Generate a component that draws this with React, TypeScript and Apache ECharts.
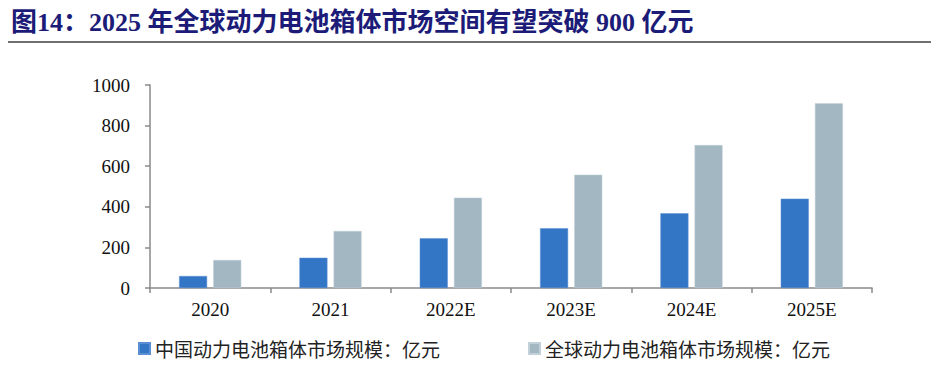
import React, { useEffect, useRef } from "react";
import * as echarts from "echarts";

const categories = ["2020", "2021", "2022E", "2023E", "2024E", "2025E"];
const chinaValues = [59, 149, 245, 294, 368, 440];
const globalValues = [138, 281, 445, 558, 704, 910];
const seriesNames = ["中国动力电池箱体市场规模：亿元", "全球动力电池箱体市场规模：亿元"];
const titleText = "图14：2025 年全球动力电池箱体市场空间有望突破 900 亿元";

export default function App() {
  const ref = useRef<HTMLDivElement>(null);
  useEffect(() => {
    document.body.style.margin = "0";
    if (!ref.current) return;
    const chart = echarts.init(ref.current, undefined, { renderer: "svg" });
    const serif = "'Liberation Serif', 'Times New Roman', serif";
    chart.setOption({
      animation: false,
      backgroundColor: "#ffffff",
      graphic: [
        {
          type: "text",
          left: 11,
          top: 9,
          style: {
            text: titleText,
            font: "bold 26px 'Liberation Serif', 'Noto Sans CJK SC', serif",
            fill: "#1c1c78",
          },
        },
        {
          type: "line",
          shape: { x1: 8, y1: 42, x2: 931, y2: 42 },
          style: { stroke: "#707070", lineWidth: 2 },
        },
      ],
      grid: { left: 150, right: 59, top: 85, bottom: 77 },
      legend: [
        {
          data: [seriesNames[0]],
          left: 133,
          top: 334,
          itemWidth: 11,
          itemHeight: 11,
          itemGap: 5,
          icon: "rect",
          textStyle: { fontFamily: "'Noto Sans CJK SC'", fontSize: 19, color: "#222" },
        },
        {
          data: [seriesNames[1]],
          left: 523,
          top: 334,
          itemWidth: 11,
          itemHeight: 11,
          itemGap: 5,
          icon: "rect",
          textStyle: { fontFamily: "'Noto Sans CJK SC'", fontSize: 19, color: "#222" },
        },
      ],
      xAxis: {
        type: "category",
        data: categories,
        axisLine: { lineStyle: { color: "#8a8a8a", width: 1.5 } },
        axisTick: { show: true, length: 5, lineStyle: { color: "#8a8a8a", width: 1.5 } },
        axisLabel: { fontFamily: serif, fontSize: 19, color: "#111", margin: 12 },
      },
      yAxis: {
        type: "value",
        min: 0,
        max: 1000,
        interval: 200,
        splitLine: { show: false },
        axisLine: { show: true, lineStyle: { color: "#8a8a8a", width: 1.5 } },
        axisTick: { show: true, length: 5, lineStyle: { color: "#8a8a8a", width: 1.5 } },
        axisLabel: { fontFamily: serif, fontSize: 19, color: "#111", margin: 20, formatter: (v: number) => String(v) },
      },
      series: [
        {
          name: seriesNames[0],
          type: "bar",
          data: chinaValues,
          barWidth: 28,
          barGap: "22%",
          itemStyle: { color: "#3476c6", borderColor: "#5a8fd3", borderWidth: 0.5 },
        },
        {
          name: seriesNames[1],
          type: "bar",
          data: globalValues,
          barWidth: 28,
          itemStyle: { color: "#a3b7c2", borderColor: "#c2d1d9", borderWidth: 0.5 },
        },
      ],
    });
    return () => chart.dispose();
  }, []);
  return <div ref={ref} style={{ width: 931, height: 365 }} />;
}
